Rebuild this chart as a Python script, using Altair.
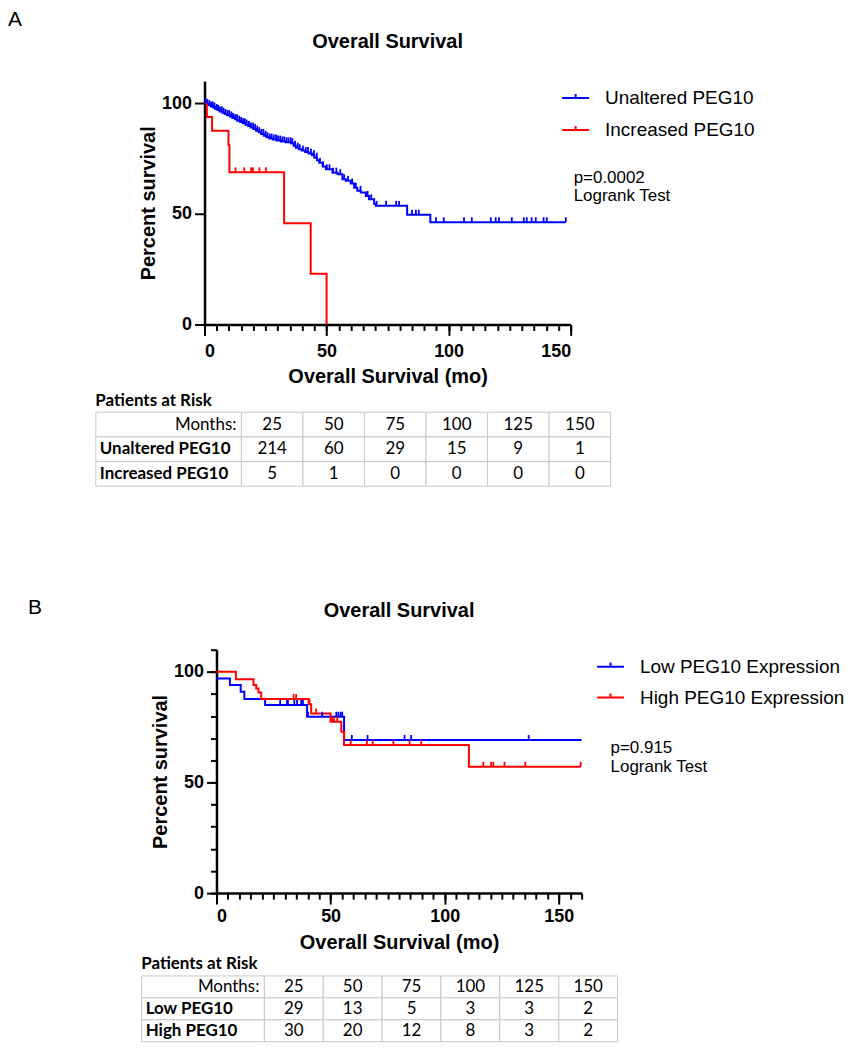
import bisect
import altair as alt
import pandas as pd

FONT = "Liberation Sans"
TFONT = "Lato"
BLUE = "#0000ff"
RED = "#ff0000"

# ---------------- Panel A ----------------
A_GROUPS = ["Unaltered PEG10", "Increased PEG10"]
A_BLUE_T = [0, 0.8, 1.7, 2.6, 3.5, 4.4, 5.3, 6.2, 7.3, 8.3, 9.2, 10.4, 11.4, 12.5, 13.4,
            14.6, 15.7, 16.8, 17.9, 18.9, 20.0, 21.1, 22.2, 23.2, 24.3, 25.4, 26.6, 28.0,
            29.5, 31.3, 33.2, 35.4, 36.5, 37.4, 38.6, 39.8, 41.2, 42.6, 44.0, 45.0, 46.1,
            47.0, 48.4, 49.7, 52.4, 54.5, 56.5, 57.9, 59.9, 61.3, 62.6, 64.0, 66.1, 67.4,
            69.5, 70.2, 83.0, 92.5, 148.0]
A_BLUE_S = [100, 99.6, 99.1, 98.5, 98.0, 97.4, 96.9, 96.3, 95.7, 95.1, 94.6, 94.0, 93.3,
            92.7, 92.1, 91.5, 90.9, 90.3, 89.7, 89.0, 88.3, 87.6, 86.9, 86.1, 85.3, 84.6,
            84.0, 83.6, 83.1, 82.7, 82.3, 81.9, 80.8, 79.9, 79.2, 78.6, 77.9, 77.3, 76.5,
            75.4, 74.2, 73.1, 71.4, 70.1, 68.6, 67.9, 65.6, 64.9, 63.7, 61.8, 60.4, 59.6,
            58.1, 56.6, 54.4, 53.6, 49.6, 46.2, 46.2]
A_BLUE_CENS = [0.5, 1.2, 2.0, 2.7, 3.4, 4.1, 5.0, 5.6, 6.3, 7.1, 7.8, 8.6, 9.4, 10.1, 11.0,
               11.7, 12.5, 13.3, 14.2, 15.0, 15.8, 16.5, 17.3, 18.2, 19.0, 19.9, 20.7, 21.6,
               22.4, 23.3, 24.1, 25.0, 25.8, 26.7, 27.5, 28.4, 29.3, 30.1, 31.0, 31.9, 32.7,
               33.6, 34.4, 35.3, 36.0, 37.1, 38.2, 39.0, 40.3, 41.5, 42.4, 43.6, 44.8, 46.0,
               47.3, 48.6, 50.1, 51.2, 52.7, 54.0, 55.6, 57.2, 58.8, 60.5, 62.0, 63.9, 66.8,
               68.3, 70.5, 74.4, 78.5, 79.7, 85.0, 86.6, 87.8, 94.8, 98.0, 106.3, 109.5,
               117.3, 119.3, 120.6, 125.9, 130.8, 132.0, 134.0, 135.7, 138.9, 140.2, 148.0]
A_RED_T = [0, 0.95, 3.1, 9.8, 10.2, 32.6, 43.5, 50.0]
A_RED_S = [100, 93.75, 87.5, 81.25, 68.75, 45.8, 22.9, 0]
A_RED_CENS = [12.7, 16.3, 19.1, 19.8, 22.5, 25.2]
A_PTEXT = ["p=0.0002", "Logrank Test"]

# ---------------- Panel B ----------------
B_GROUPS = ["Low PEG10 Expression", "High PEG10 Expression"]
B_BLUE_T = [0, 5.9, 10.6, 12.2, 21.3, 39.7, 55.9, 160.0]
B_BLUE_S = [97.0, 94.0, 91.0, 87.7, 85.0, 79.7, 69.2, 69.2]
B_BLUE_CENS = [27.9, 30.9, 31.3, 34.1, 35.3, 37.1, 37.9, 40.1, 46.3, 52.5, 53.4, 54.4,
               55.1, 59.3, 66.2, 82.4, 85.3, 136.8]
B_RED_T = [0, 8.5, 16.2, 17.4, 18.4, 19.6, 40.4, 41.5, 50.0, 54.7, 55.9, 110.6, 159.6]
B_RED_S = [100, 96.7, 94.0, 92.5, 90.7, 87.7, 85.4, 81.2, 77.4, 72.9, 66.9, 57.1, 57.1]
B_RED_CENS = [33.8, 34.9, 40.8, 43.7, 50.6, 51.5, 52.9, 58.8, 65.9, 68.4, 77.5, 84.6,
              89.7, 116.9, 120.3, 121.3, 126.2, 135.3, 159.6]
B_PTEXT = ["p=0.915", "Logrank Test"]

# ---------------- Patients at risk tables ----------------
MONTHS = ["25", "50", "75", "100", "125", "150"]
A_ROWS = ["Months:", "Unaltered PEG10", "Increased PEG10"]
A_RISK_1 = [214, 60, 29, 15, 9, 1]
A_RISK_2 = [5, 1, 0, 0, 0, 0]
B_ROWS = ["Months:", "Low PEG10", "High PEG10"]
B_RISK_1 = [29, 13, 5, 3, 3, 2]
B_RISK_2 = [30, 20, 12, 8, 3, 2]

TITLE = "Overall Survival"
XTITLE = "Overall Survival (mo)"
YTITLE = "Percent survival"
TABLE_TITLE = "Patients at Risk"

TICK_PATH = "M0,0L0,-1"
LEGEND_PATH = "M-1,0L1,0M0,0L0,-0.3"


def step_df(groups, Ts, Ss):
    rows = []
    for g, T, S in zip(groups, Ts, Ss):
        for i, (t, s) in enumerate(zip(T, S)):
            rows.append({"t": t, "s": s, "g": g, "i": i})
    return pd.DataFrame(rows)


def cens_df(groups, Ts, Ss, Cs):
    rows = []
    for g, T, S, C in zip(groups, Ts, Ss, Cs):
        for c in C:
            k = bisect.bisect_right(T, c) - 1
            rows.append({"t": c, "s": S[k], "g": g})
    return pd.DataFrame(rows)


def text_layer(text, x, y, size, weight="normal", align="left", baseline="alphabetic",
               font=FONT):
    return alt.Chart(pd.DataFrame({"label": [text]})).mark_text(
        align=align, baseline=baseline, font=font, fontSize=size,
        fontWeight=weight, color="black"
    ).encode(x=alt.value(x), y=alt.value(y), text="label:N")


def spacer(w):
    return alt.Chart(pd.DataFrame({"a": [0]})).mark_point(opacity=0).properties(
        width=w, height=10)


def km_panel(letter, letter_xy, groups, Ts, Ss, Cs, xmax, width, height,
             x_label_pad, x_title_pad, y_minor, legend_xy, row_pad, legend_fs,
             ptexts, p_xy, title_y):
    xs = alt.Scale(domain=[0, xmax], nice=False, zero=False)
    ys = alt.Scale(domain=[0, 110], nice=False, zero=False)
    cscale = alt.Scale(domain=groups, range=[BLUE, RED])
    x_major = alt.Axis(orient="bottom", values=list(range(0, xmax + 1, 50)), tickSize=11,
                       labelPadding=x_label_pad, title=XTITLE, titlePadding=x_title_pad,
                       grid=False)
    x_minor = alt.Axis(orient="bottom", values=list(range(0, xmax + 1, 5)), tickSize=6,
                       labels=False, domain=False, title=None, grid=False)
    y_major = alt.Axis(orient="left", values=[0, 50, 100], tickSize=10, labelPadding=3,
                       title=YTITLE, titlePadding=3, grid=False)
    if y_minor:
        y_min_axis = alt.Axis(orient="left", values=list(range(0, 111, 10)), tickSize=6,
                              labels=False, domain=False, title=None, grid=False)
    else:
        y_min_axis = None

    lines = alt.Chart(step_df(groups, Ts, Ss)).mark_line(
        interpolate="step-after", strokeWidth=2
    ).encode(
        x=alt.X("t:Q", scale=xs, axis=x_major),
        y=alt.Y("s:Q", scale=ys, axis=y_major),
        color=alt.Color("g:N", scale=cscale, legend=alt.Legend(
            orient="none", legendX=legend_xy[0], legendY=legend_xy[1], title=None,
            symbolType=LEGEND_PATH, symbolSize=729, symbolStrokeWidth=2,
            labelFont=FONT, labelFontSize=legend_fs, labelColor="black", labelOffset=15,
            rowPadding=row_pad, padding=0, labelLimit=500)),
        order="i:Q",
    )
    cens = alt.Chart(cens_df(groups, Ts, Ss, Cs)).mark_point(
        shape=TICK_PATH, size=100, strokeWidth=1.8, filled=False, opacity=1
    ).encode(
        x=alt.X("t:Q", scale=xs, axis=x_minor),
        y=alt.Y("s:Q", scale=ys, axis=y_min_axis),
        color=alt.Color("g:N", scale=cscale, legend=None),
    )
    layers = [
        lines, cens,
        text_layer(letter, letter_xy[0], letter_xy[1], 21, baseline="top"),
        text_layer(TITLE, width / 2, title_y, 20, weight="bold", align="center"),
        text_layer(ptexts[0], p_xy[0], p_xy[1], 17),
        text_layer(ptexts[1], p_xy[0], p_xy[2], 17),
    ]
    return alt.layer(*layers).resolve_axis(x="independent", y="independent").properties(
        width=width, height=height)


def risk_table(rows, r1, r2, label_w, col_w, row_h, fs):
    h = row_h * len(rows)
    lab_df = pd.DataFrame({"row": rows})
    yenc = alt.Y("row:N", sort=rows, scale=alt.Scale(paddingInner=0, paddingOuter=0),
                 axis=None)
    lab_rect = alt.Chart(lab_df).mark_rect(
        fill="white", stroke="#c8c8c8", strokeWidth=1).encode(y=yenc)
    lab_hdr = alt.Chart(lab_df).transform_filter(alt.datum.row == rows[0]).mark_text(
        align="right", baseline="middle", font=TFONT, fontSize=fs, color="black"
    ).encode(y=yenc, x=alt.value(label_w - 5), text="row:N")
    lab_names = alt.Chart(lab_df).transform_filter(alt.datum.row != rows[0]).mark_text(
        align="left", baseline="middle", font=TFONT, fontSize=fs, fontWeight="bold",
        color="black"
    ).encode(y=yenc, x=alt.value(4), text="row:N")
    lab = alt.layer(lab_rect, lab_hdr, lab_names).properties(
        width=label_w, height=h,
        title=alt.TitleParams(TABLE_TITLE, anchor="start", font=TFONT, fontSize=fs,
                              fontWeight="bold", color="black", offset=2))

    recs = []
    for j, m in enumerate(MONTHS):
        recs.append({"row": rows[0], "col": m, "val": m})
        recs.append({"row": rows[1], "col": m, "val": str(r1[j])})
        recs.append({"row": rows[2], "col": m, "val": str(r2[j])})
    val_df = pd.DataFrame(recs)
    xenc = alt.X("col:N", sort=MONTHS, scale=alt.Scale(paddingInner=0, paddingOuter=0),
                 axis=None)
    val_rect = alt.Chart(val_df).mark_rect(
        fill="white", stroke="#c8c8c8", strokeWidth=1).encode(x=xenc, y=yenc)
    val_text = alt.Chart(val_df).mark_text(
        align="center", baseline="middle", font=TFONT, fontSize=fs, color="black"
    ).encode(x=xenc, y=yenc, text="val:N")
    val = alt.layer(val_rect, val_text).properties(width=col_w * len(MONTHS), height=h)
    return [lab, val]


# legend x is measured from the row's left edge, legend y from the plot top
plotA = km_panel("A", (-197, -72), A_GROUPS, [A_BLUE_T, A_RED_T], [A_BLUE_S, A_RED_S],
                 [A_BLUE_CENS, A_RED_CENS], 150, 367, 244, 7, 6, False,
                 (554.5, 2.5), 7, 19, A_PTEXT, (370, 102, 120), -33)
plotB = km_panel("B", (-189, -53), B_GROUPS, [B_BLUE_T, B_RED_T], [B_BLUE_S, B_RED_S],
                 [B_BLUE_CENS, B_RED_CENS], 160, 366, 244, 3, 8, True,
                 (589.5, 2.5), 6, 19, B_PTEXT, (395, 104, 123), -33)

# every row starts with an invisible spacer; "flush" bounds place the next view
# right after the spacer's width, so the spacer sets the left offset of each row
rowA = alt.hconcat(spacer(197), plotA, spacing=0, bounds="flush")
rowB = alt.hconcat(spacer(209), plotB, spacing=0, bounds="flush")
tableA = alt.hconcat(spacer(88), *risk_table(A_ROWS, A_RISK_1, A_RISK_2, 146, 370 / 6,
                                             24.7, 17), spacing=0, bounds="flush")
tableB = alt.hconcat(spacer(134), *risk_table(B_ROWS, B_RISK_1, B_RISK_2, 123, 59, 22, 17),
                     spacing=0, bounds="flush")

top = alt.vconcat(rowA, tableA, spacing=5)
bottom = alt.vconcat(rowB, tableB, spacing=2)

chart = alt.vconcat(top, bottom, spacing=110).properties(padding=0).resolve_scale(
    color="independent").resolve_legend(color="independent").configure_view(
    stroke=None).configure_axis(
    domainColor="black", domainWidth=2.5, tickColor="black", tickWidth=2,
    labelFont=FONT, labelFontSize=18, labelFontWeight="bold", labelColor="black",
    titleFont=FONT, titleFontSize=20, titleFontWeight="bold", titleColor="black",
    grid=False)

chart.save("out.html", embed_options={"renderer": "svg", "actions": False})
